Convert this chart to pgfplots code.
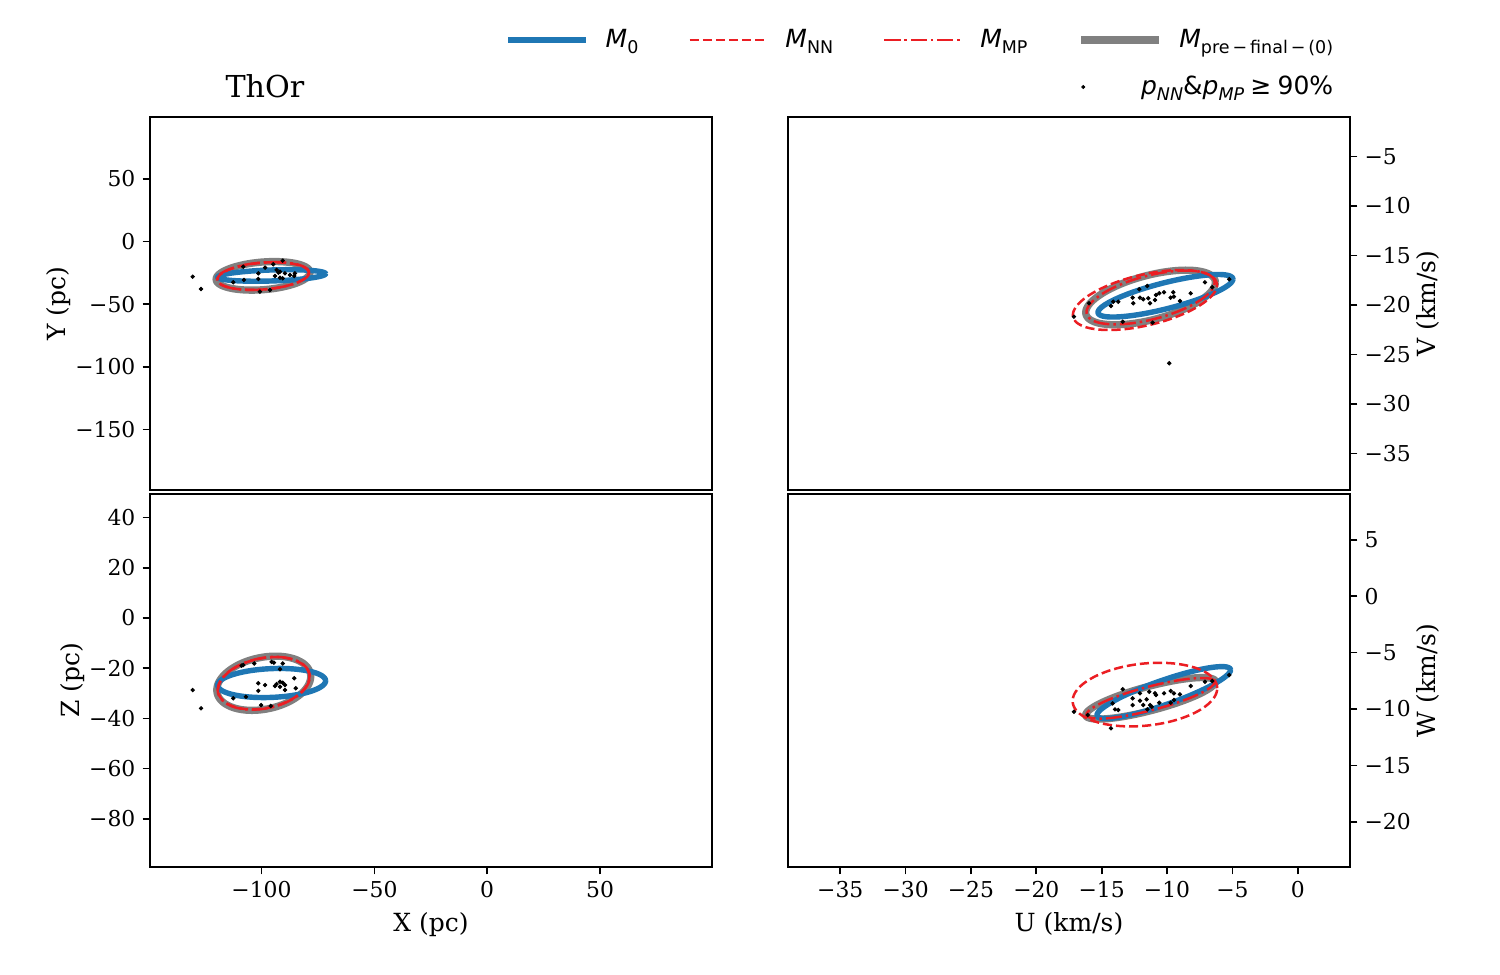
\documentclass[border=0pt]{standalone}
\usepackage{pgfplots}
\pgfplotsset{compat=1.18}
\usepackage{fontspec}
\setmainfont{DejaVu Serif}
\newfontfamily\legfont{DejaVu Sans}

\definecolor{mblue}{HTML}{1F77B4}
\definecolor{mred}{RGB}{235,30,35}
\definecolor{mgray}{HTML}{808080}

% confidence ellipse: style, centre (cx,cy), half extents (sx,sy), correlation rho
\newcommand{\confellipse}[6]{%
  \addplot[#1, domain=0:360, samples=145, variable=\t, forget plot]
    ({#2 + #4*cos(\t)}, {#3 + #5*((#6)*cos(\t) + sqrt(1-(#6)^2)*sin(\t))});}

\newcommand{\sub}[1]{\raisebox{-0.22em}{\fontsize{8.4}{9}\selectfont #1}}

\pgfplotsset{
  m0/.style={mblue, line width=2.6pt},
  mnn/.style={mred, line width=1.2pt, dash pattern=on 4.4pt off 1.9pt},
  mmp/.style={mred, line width=1.2pt, dash pattern=on 7.7pt off 1.9pt on 1.2pt off 1.9pt},
  mpre/.style={mgray, line width=3.5pt},
  members/.style={only marks, mark=*, mark size=0.85pt, black, forget plot},
  panel/.style={
    scale only axis, width=269.76pt, height=179.04pt,
    tick align=outside, major tick length=3.5pt,
    every tick/.style={black, line width=0.8pt},
    axis line style={line width=0.8pt},
    tick label style={font=\fontsize{10.5}{12}\selectfont},
    label style={font=\fontsize{12}{14}\selectfont},
    minor tick num=0,
  },
}

\begin{document}
\begin{tikzpicture}

% ---------------- X-Y ----------------
\begin{axis}[panel, at={(72pt,232.8pt)}, anchor=south west,
  xmin=-149.4, xmax=99.6, ymin=-198.2, ymax=99.3,
  xtick=\empty, ytick pos=left,
  ytick={-150,-100,-50,0,50}, yticklabels={−150,−100,−50,0,50},
  ylabel={Y (pc)}, ylabel shift=-4.8pt,
  title={ThOr},
  title style={at={(0.2046,1.048)}, anchor=center, font=\fontsize{14.5}{17}\selectfont},
  legend style={at={(2.1246,1.0804)}, anchor=east, draw=none, fill=none,
    font=\legfont\fontsize{12}{14}\selectfont,
    /tikz/every odd column/.append style={column sep=25pt}},
]
\confellipse{mpre}{-99.3}{-27.4}{20.8}{11.4}{0.24}
\confellipse{m0}{-95.5}{-27.1}{23.9}{4.6}{0.3}
\confellipse{mnn}{-99.3}{-27.6}{20.2}{11.0}{0.24}
\confellipse{mmp}{-99.3}{-27.5}{20.4}{11.1}{0.24}
\addplot[members] coordinates {
 (-130.5,-28.1) (-126.8,-37.9) (-108.1,-20.1) (-94.8,-18.2) (-90.6,-15.3)
 (-101.4,-25.4) (-101.4,-29.9) (-112.5,-32.5) (-107.8,-30.7) (-94.0,-27.5)
 (-91.8,-24.1) (-89.6,-25.4) (-91.8,-28.9) (-90.6,-29.4) (-85.2,-25.4)
 (-85.5,-27.5) (-100.7,-40.0) (-96.2,-38.7) (-92.5,-24.9) (-98.4,-20.9)
 (-93.3,-22.7) (-87.4,-26.7)
};
\addlegendimage{only marks, mark=*, mark size=0.75pt, black}
\addlegendentry{\textit{p}\sub{\textit{NN}}\&\textit{p}\sub{\textit{MP}}\hspace{0.25em}≥\hspace{0.25em}90\%}
\end{axis}

% ---------------- X-Z ----------------
\begin{axis}[panel, at={(72pt,51.84pt)}, anchor=south west,
  xmin=-149.4, xmax=99.6, ymin=-99.2, ymax=49.4,
  xtick pos=bottom, ytick pos=left,
  xtick={-100,-50,0,50}, xticklabels={−100,−50,0,50},
  ytick={-80,-60,-40,-20,0,20,40}, yticklabels={−80,−60,−40,−20,0,20,40},
  xlabel={X (pc)}, ylabel={Z (pc)}, ylabel shift=-4.8pt,
]
\confellipse{mpre}{-99.0}{-26.0}{20.8}{10.8}{0.25}
\confellipse{m0}{-95.5}{-25.9}{23.9}{5.8}{0.15}
\confellipse{mnn}{-99.0}{-26.0}{20.2}{10.4}{0.25}
\confellipse{mmp}{-99.0}{-26.0}{20.4}{10.5}{0.25}
\addplot[members] coordinates {
 (-130.5,-28.7) (-126.8,-36.0) (-108.8,-19.0) (-108.1,-18.7) (-103.2,-18.1)
 (-95.5,-17.5) (-94.5,-17.8) (-90.6,-18.1) (-91.8,-20.4) (-101.4,-26.0)
 (-98.4,-26.7) (-101.4,-29.0) (-94.0,-27.1) (-93.3,-26.3) (-91.8,-25.4)
 (-90.6,-25.8) (-89.6,-26.7) (-89.6,-28.7) (-91.8,-27.4) (-85.5,-24.0)
 (-84.8,-28.0) (-106.9,-31.4) (-112.5,-32.0) (-100.2,-34.7) (-95.9,-35.1)
};
\end{axis}

% ---------------- U-V ----------------
\begin{axis}[panel, at={(378.24pt,232.8pt)}, anchor=south west,
  xmin=-39, xmax=4, ymin=-38.7, ymax=-1.0,
  xtick=\empty, ytick pos=right, yticklabel pos=right,
  ytick={-35,-30,-25,-20,-15,-10,-5}, yticklabels={−35,−30,−25,−20,−15,−10,−5},
  ylabel={V (km/s)}, ylabel shift=-4.3pt,
  legend columns=4,
  legend cell align=left,
  legend style={at={(0.9893,1.2064)}, anchor=east, draw=none, fill=none,
    font=\legfont\fontsize{12}{14}\selectfont,
    /tikz/every odd column/.append style={column sep=6pt},
    /tikz/every even column/.append style={column sep=22pt}},
  legend image code/.code={\draw[#1] (0pt,0pt) -- (37.4pt,0pt);},
]
\confellipse{mpre}{-11.26}{-19.24}{4.96}{2.76}{0.55}
\confellipse{m0}{-10.12}{-19.07}{5.16}{2.15}{0.78}
\confellipse{mnn}{-11.69}{-19.50}{5.51}{3.03}{0.5}
\confellipse{mmp}{-11.26}{-19.24}{4.90}{2.72}{0.55}
\addplot[members] coordinates {
 (-17.12,-21.18) (-15.97,-19.83) (-14.29,-20.10) (-14.11,-19.67) (-13.73,-19.67)
 (-13.39,-21.69) (-12.63,-19.26) (-12.58,-19.83) (-12.12,-18.41) (-11.51,-18.08)
 (-12.07,-19.26) (-11.82,-19.43) (-11.43,-19.32) (-11.30,-19.83) (-10.92,-19.50)
 (-10.84,-18.99) (-10.59,-18.82) (-10.23,-18.72) (-11.10,-21.79) (-9.72,-19.26)
 (-9.47,-19.16) (-9.52,-18.72) (-9.01,-19.60) (-8.19,-18.82) (-7.10,-17.71)
 (-6.54,-18.21) (-5.24,-17.40) (-9.83,-25.89)
};
\addlegendimage{m0}
\addlegendentry{\textit{M}\sub{0}}
\addlegendimage{mnn}
\addlegendentry{\textit{M}\sub{NN}}
\addlegendimage{mmp}
\addlegendentry{\textit{M}\sub{MP}}
\addlegendimage{mpre}
\addlegendentry{\textit{M}\sub{pre\,−\,final\,−\,(0)}}
\end{axis}

% ---------------- U-W ----------------
\begin{axis}[panel, at={(378.24pt,51.84pt)}, anchor=south west,
  xmin=-39, xmax=4, ymin=-24.0, ymax=9.06,
  xtick pos=bottom, ytick pos=right, yticklabel pos=right,
  xtick={-35,-30,-25,-20,-15,-10,-5,0}, xticklabels={−35,−30,−25,−20,−15,−10,−5,0},
  ytick={-20,-15,-10,-5,0,5}, yticklabels={−20,−15,−10,−5,0,5},
  xlabel={U (km/s)}, ylabel={W (km/s)}, ylabel shift=-4.3pt,
]
\confellipse{mpre}{-11.26}{-9.05}{4.96}{1.84}{0.8}
\confellipse{m0}{-10.25}{-8.54}{5.11}{2.30}{0.87}
\confellipse{mnn}{-11.69}{-8.72}{5.53}{2.82}{0.2}
\confellipse{mmp}{-11.26}{-9.05}{4.90}{1.80}{0.8}
\addplot[members] coordinates {
 (-17.12,-10.24) (-16.07,-10.53) (-14.29,-11.71) (-14.16,-9.50) (-13.98,-10.03)
 (-13.73,-10.09) (-13.39,-8.25) (-12.63,-9.05) (-12.63,-9.65) (-12.07,-8.61)
 (-12.07,-9.26) (-11.82,-9.65) (-11.56,-9.14) (-11.51,-10.03) (-11.36,-8.47)
 (-11.30,-9.65) (-11.17,-9.80) (-10.92,-8.61) (-10.84,-8.76) (-10.59,-9.44)
 (-10.23,-8.61) (-9.72,-8.40) (-9.72,-9.44) (-9.47,-8.61) (-9.47,-9.20)
 (-9.01,-8.70) (-8.19,-7.96) (-7.10,-7.58) (-6.54,-7.52) (-5.24,-6.99)
};
\end{axis}

\pgfresetboundingbox
\path (0pt,0pt) rectangle (720pt,468pt);
\end{tikzpicture}
\end{document}
